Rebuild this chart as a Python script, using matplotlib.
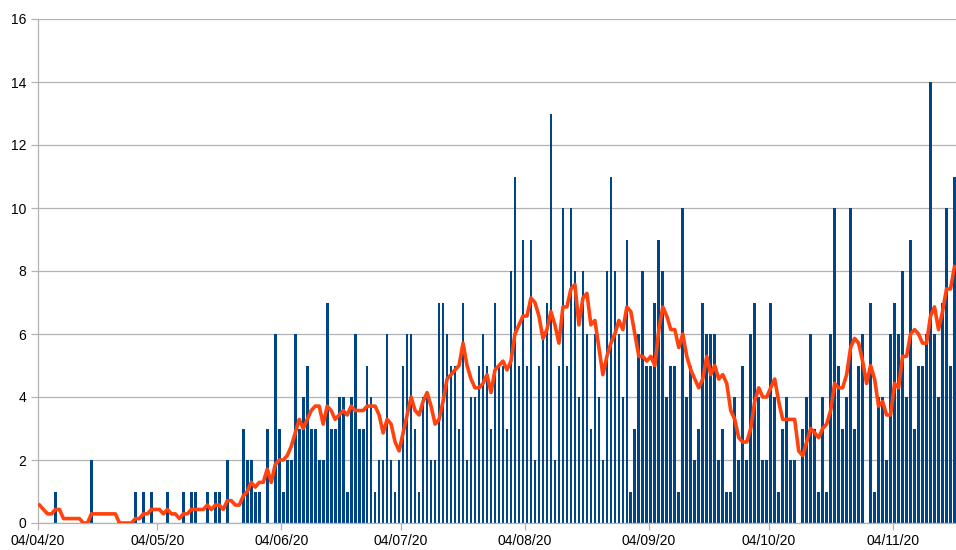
import matplotlib
matplotlib.use('Agg')
import matplotlib.pyplot as plt
import numpy as np

plt.rcParams['font.family'] = ['Liberation Sans', 'DejaVu Sans']

# daily counts, 04/04/20 onwards
cases = [0, 0, 0, 0, 1, 0, 0, 0, 0, 0,
         0, 0, 0, 2, 0, 0, 0, 0, 0, 0,
         0, 0, 0, 0, 1, 0, 1, 0, 1, 0,
         0, 0, 1, 0, 0, 0, 1, 0, 1, 1,
         0, 0, 1, 0, 1, 1, 0, 2, 0, 0,
         0, 3, 2, 2, 1, 1, 0, 3, 0, 6,
         3, 1, 2, 2, 6, 3, 4, 5, 3, 3,
         2, 2, 7, 3, 3, 4, 4, 1, 4, 6,
         3, 3, 5, 4, 1, 2, 2, 6, 2, 1,
         2, 5, 6, 6, 3, 1, 4, 4, 2, 2,
         7, 7, 6, 5, 5, 3, 7, 2, 4, 4,
         5, 6, 5, 3, 7, 5, 5, 3, 8, 11,
         5, 9, 5, 9, 2, 5, 6, 7, 13, 2,
         5, 10, 5, 10, 8, 4, 8, 6, 3, 6,
         4, 2, 8, 11, 8, 6, 4, 9, 1, 3,
         6, 8, 5, 5, 7, 9, 8, 4, 5, 5,
         1, 10, 4, 5, 2, 3, 7, 6, 6, 6,
         2, 3, 1, 1, 4, 2, 5, 2, 6, 7,
         4, 2, 2, 7, 4, 1, 3, 4, 2, 2,
         0, 3, 4, 6, 3, 1, 4, 1, 6, 10,
         5, 3, 4, 10, 3, 5, 6, 0, 7, 1,
         4, 4, 2, 6, 7, 6, 8, 4, 9, 3,
         5, 5, 6, 14, 6, 4, 7, 10, 5, 11]

# 7-day average line
avg7 = [0.57, 0.43, 0.29, 0.29, 0.43, 0.43, 0.14, 0.14, 0.14, 0.14,
        0.14, 0.00, 0.00, 0.29, 0.29, 0.29, 0.29, 0.29, 0.29, 0.29,
        0.00, 0.00, 0.00, 0.00, 0.14, 0.14, 0.29, 0.29, 0.43, 0.43,
        0.43, 0.29, 0.43, 0.29, 0.29, 0.14, 0.29, 0.29, 0.43, 0.43,
        0.43, 0.43, 0.57, 0.43, 0.57, 0.57, 0.43, 0.71, 0.71, 0.57,
        0.57, 0.86, 1.00, 1.29, 1.14, 1.29, 1.29, 1.71, 1.29, 1.86,
        2.00, 2.00, 2.14, 2.43, 2.86, 3.29, 3.00, 3.29, 3.57, 3.71,
        3.71, 3.14, 3.71, 3.57, 3.29, 3.43, 3.57, 3.43, 3.71, 3.57,
        3.57, 3.57, 3.71, 3.71, 3.71, 3.43, 2.86, 3.29, 3.14, 2.57,
        2.29, 2.86, 3.43, 4.00, 3.57, 3.43, 3.86, 4.14, 3.71, 3.14,
        3.29, 3.86, 4.57, 4.71, 4.86, 5.00, 5.71, 5.00, 4.57, 4.29,
        4.29, 4.43, 4.71, 4.14, 4.86, 5.00, 5.14, 4.86, 5.14, 6.00,
        6.29, 6.57, 6.57, 7.14, 7.00, 6.57, 5.86, 6.14, 6.71, 6.29,
        5.71, 6.86, 6.86, 7.43, 7.57, 6.29, 7.14, 7.29, 6.29, 6.43,
        5.57, 4.71, 5.29, 5.71, 6.00, 6.43, 6.14, 6.86, 6.71, 6.00,
        5.29, 5.29, 5.14, 5.29, 5.00, 6.14, 6.86, 6.57, 6.14, 6.14,
        5.57, 6.00, 5.29, 4.86, 4.57, 4.29, 4.57, 5.29, 4.71, 5.00,
        4.57, 4.71, 4.43, 3.57, 3.29, 2.71, 2.57, 2.57, 3.00, 3.86,
        4.29, 4.00, 4.00, 4.29, 4.57, 3.86, 3.29, 3.29, 3.29, 3.29,
        2.29, 2.14, 2.57, 3.00, 2.86, 2.71, 3.00, 3.14, 3.57, 4.43,
        4.29, 4.29, 4.71, 5.57, 5.86, 5.71, 5.14, 4.43, 5.00, 4.57,
        3.71, 3.86, 3.43, 3.43, 4.43, 4.29, 5.29, 5.29, 6.00, 6.14,
        6.00, 5.71, 5.71, 6.57, 6.86, 6.14, 6.71, 7.43, 7.43, 8.14]

tick_days = [0, 30, 61, 91, 122, 153, 183, 214]
tick_labels = ['04/04/20', '04/05/20', '04/06/20', '04/07/20',
               '04/08/20', '04/09/20', '04/10/20', '04/11/20']

days = np.arange(len(cases)) + 0.5

fig = plt.figure(figsize=(9.56, 5.5), dpi=100)
ax = fig.add_axes([37.5/956, 27/550, 919/956, 504/550])

ax.bar(days, cases, width=0.68, color='#004586', zorder=2)
ax.plot(days, avg7, color='#ff420e', lw=2.6, solid_joinstyle='round', zorder=3)

ax.set_xlim(0, len(cases))
ax.set_ylim(0, 16)
ax.set_yticks(range(0, 17, 2))
ax.set_xticks(tick_days)
ax.set_xticklabels(tick_labels)

ax.grid(axis='y', color='#b3b3b3', lw=0.9, zorder=0)
ax.set_axisbelow(True)
for s in ['top', 'right']:
    ax.spines[s].set_visible(False)
for s in ['left', 'bottom']:
    ax.spines[s].set_color('#b3b3b3')
    ax.spines[s].set_linewidth(0.9)
ax.tick_params(length=5, width=0.9, color='#b3b3b3', labelsize=10,
               labelcolor='black', pad=3)

fig.savefig('out.png', dpi=100)
